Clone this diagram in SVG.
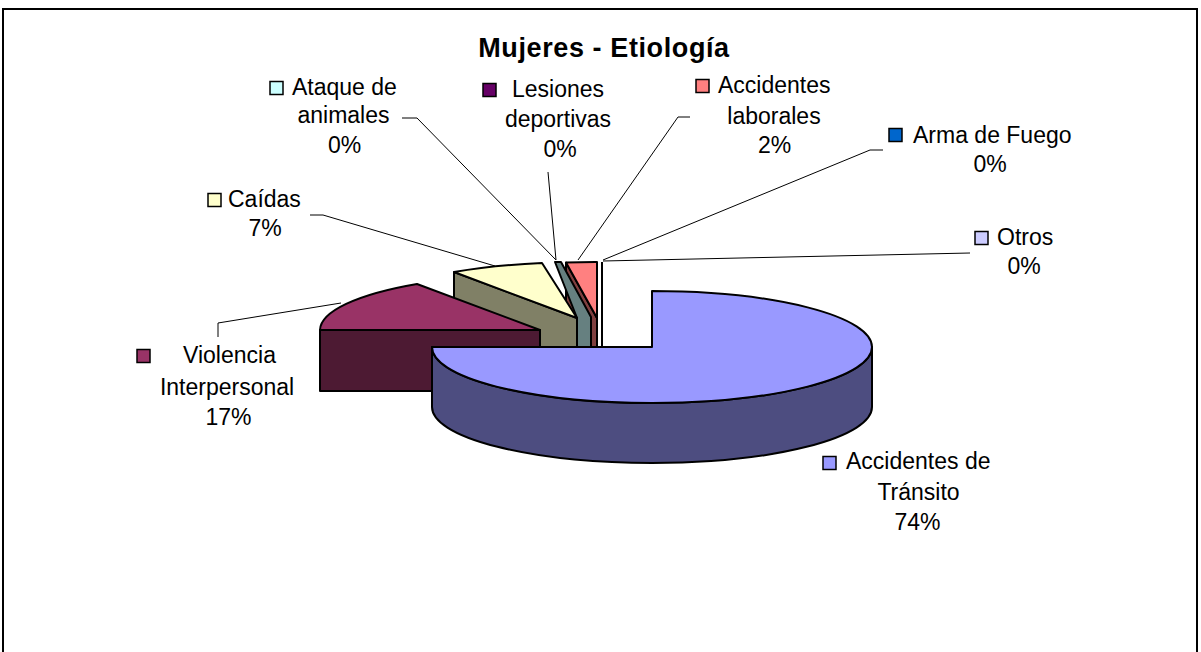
<svg xmlns="http://www.w3.org/2000/svg" width="1201" height="652" viewBox="0 0 1201 652">
<style>
text{font-family:"Liberation Sans",Arial,sans-serif;font-size:23px;fill:#000}
.t{font-weight:bold;font-size:27px;letter-spacing:0.6px}
.m{text-anchor:middle}
.k{stroke:#000;stroke-width:1.5}
.f{stroke:#000;stroke-width:2;stroke-linejoin:round}
.ld{fill:none;stroke:#000;stroke-width:1}
</style>
<rect width="1201" height="652" fill="#fff"/>
<path d="M3,652 L3,9 L1197,9 L1197,652" fill="none" stroke="#000" stroke-width="2"/>
<text class="t m" x="604" y="57">Mujeres - Etiología</text>

<g id="slice-otros-arma">
<line x1="602" y1="262" x2="602" y2="378" stroke="#000" stroke-width="2"/>
</g>
<g id="slice-laborales">
<polygon class="f" points="597,318 566,262.5 566,322.5 597,378" fill="#804040"/>
<path class="f" d="M597,318 L566,262.5 A220,56 0 0 1 597,262 Z" fill="#FF8080"/>
</g>
<g id="slice-ataque-lesiones">
<polygon class="f" points="555,262 561,262 591,317 591,380 577,380 577,318" fill="#668080"/>
</g>
<g id="slice-caidas">
<polygon class="f" points="577,318 454,272 454,332 577,378" fill="#808066"/>
<path class="f" d="M577,318 L454,272 A220,56 0 0 1 542,263 Z" fill="#FFFFCC"/>
</g>
<g id="slice-violencia">
<rect class="f" x="320" y="330" width="220" height="61" fill="#4D1A33"/>
<path class="f" d="M540,330 L320,330 A220,56 0 0 1 417,284 Z" fill="#993366"/>
</g>
<g id="slice-transito">
<path class="f" d="M432,347 L432,407 A220,56 0 0 0 872,407 L872,347 A220,56 0 0 1 432,347 Z" fill="#4D4D80"/>
<path class="f" d="M652,347 L652,291 A220,56 0 1 1 432,347 Z" fill="#9999FF"/>
</g>

<g id="connectors">
<polyline class="ld" points="402,118 417,118 556,260"/>
<polyline class="ld" points="548,172 556,260"/>
<polyline class="ld" points="690,117 678,117 578,260"/>
<polyline class="ld" points="883,150 870,150 603,260"/>
<polyline class="ld" points="970,253 603,261"/>
<polyline class="ld" points="310,215 323,215 495,266"/>
<polyline class="ld" points="218,337 218,323 341,303"/>
</g>

<g id="label-ataque">
<rect class="k" x="270" y="81.5" width="13" height="13" fill="#CCFFFF"/>
<text x="292" y="95">Ataque de</text>
<text class="m" x="343.5" y="123">animales</text>
<text class="m" x="344.5" y="153">0%</text>
</g>
<g id="label-lesiones">
<rect class="k" x="483" y="83.5" width="13" height="13" fill="#660066"/>
<text x="512" y="97">Lesiones</text>
<text class="m" x="558" y="127">deportivas</text>
<text class="m" x="560" y="157">0%</text>
</g>
<g id="label-laborales">
<rect class="k" x="696" y="79.5" width="13" height="13" fill="#FF8080"/>
<text x="718" y="93">Accidentes</text>
<text class="m" x="774" y="124">laborales</text>
<text class="m" x="774.5" y="153">2%</text>
</g>
<g id="label-arma">
<rect class="k" x="889" y="128.5" width="13" height="13" fill="#0066CC"/>
<text x="913" y="143">Arma de Fuego</text>
<text class="m" x="990" y="172">0%</text>
</g>
<g id="label-otros">
<rect class="k" x="975" y="231.5" width="13" height="13" fill="#CCCCFF"/>
<text x="997" y="245">Otros</text>
<text class="m" x="1024" y="274">0%</text>
</g>
<g id="label-caidas">
<rect class="k" x="208" y="193.5" width="13" height="13" fill="#FFFFCC"/>
<text x="228" y="207">Caídas</text>
<text class="m" x="265" y="236">7%</text>
</g>
<g id="label-violencia">
<rect class="k" x="137" y="349.5" width="13" height="13" fill="#993366"/>
<text x="183" y="363">Violencia</text>
<text class="m" x="227" y="395">Interpersonal</text>
<text class="m" x="228.5" y="425">17%</text>
</g>
<g id="label-transito">
<rect class="k" x="823" y="456.5" width="13" height="13" fill="#9999FF"/>
<text x="846" y="469">Accidentes de</text>
<text class="m" x="918.5" y="500">Tránsito</text>
<text class="m" x="917.5" y="530">74%</text>
</g>
</svg>
